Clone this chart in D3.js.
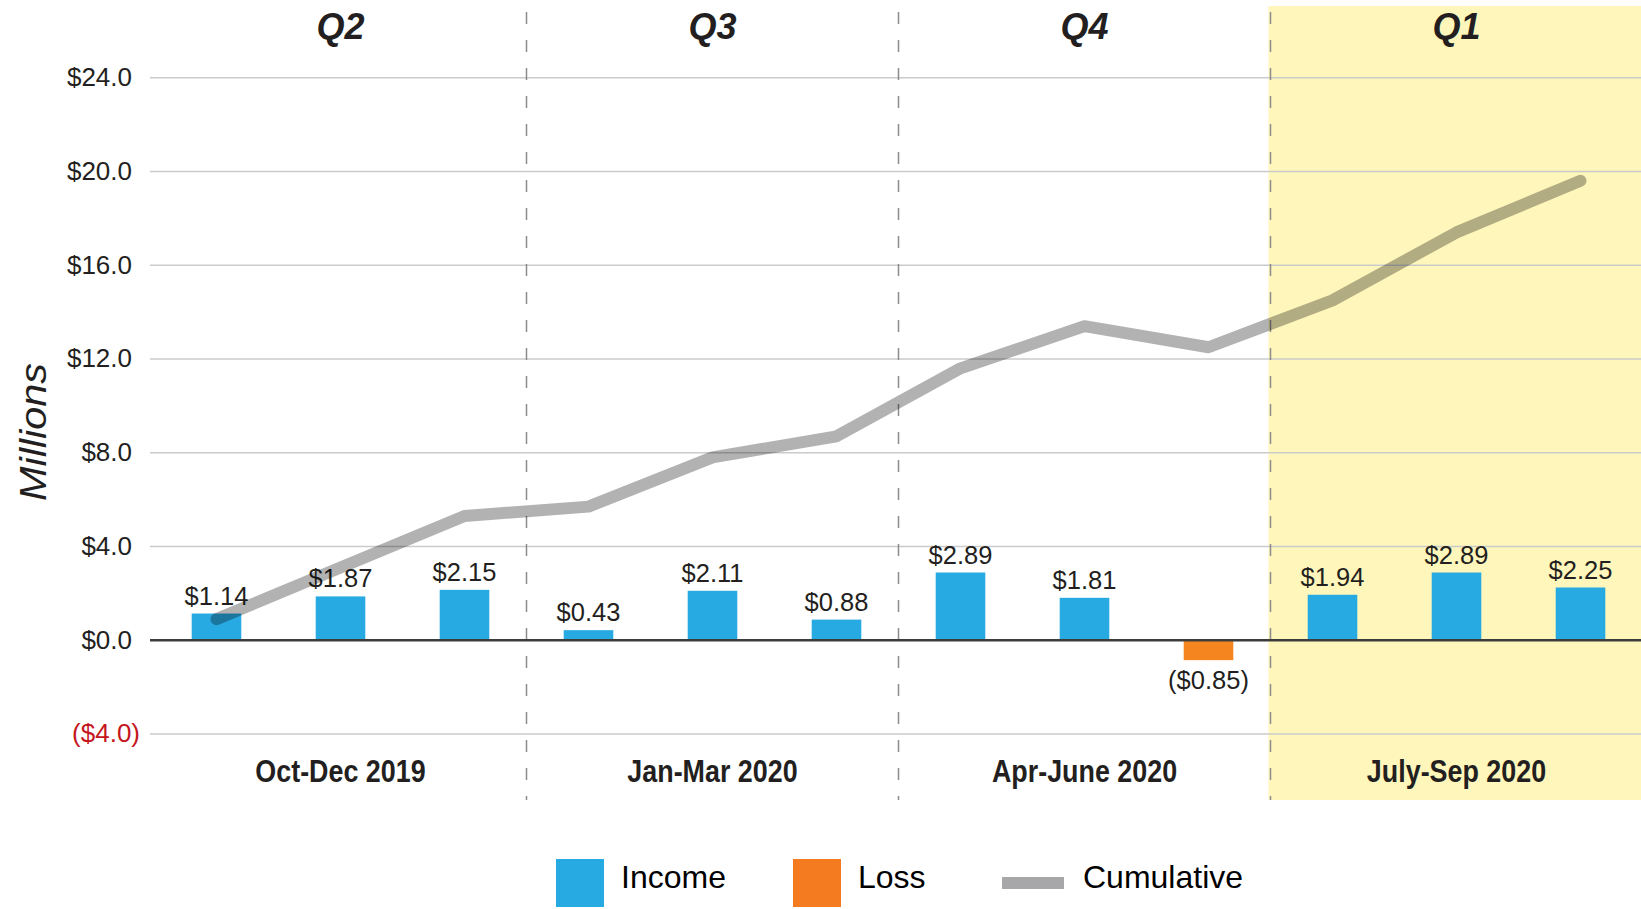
<!DOCTYPE html>
<html>
<head>
<meta charset="utf-8">
<script src="https://cdn.jsdelivr.net/npm/d3@7"></script>
<style>
  body { margin: 0; background: #fff; }
  svg { display: block; font-family: "Liberation Sans", Arial, sans-serif; }
</style>
</head>
<body>
<div id="chart"></div>
<script>
// data (millions of dollars)
var months = ["Oct 2019", "Nov 2019", "Dec 2019", "Jan 2020", "Feb 2020", "Mar 2020",
              "Apr 2020", "May 2020", "Jun 2020", "Jul 2020", "Aug 2020", "Sep 2020"];
var income = [1.14, 1.87, 2.15, 0.43, 2.11, 0.88, 2.89, 1.81, -0.85, 1.94, 2.89, 2.25];
var cumulative = [0.9, 3.1, 5.3, 5.7, 7.8, 8.7, 11.6, 13.4, 12.5, 14.5, 17.4, 19.6];
var quarters = ["Q2", "Q3", "Q4", "Q1"];
var quarterNames = ["Oct-Dec 2019", "Jan-Mar 2020", "Apr-June 2020", "July-Sep 2020"];
var yTicks = [-4, 0, 4, 8, 12, 16, 20, 24];
var legendItems = ["Income", "Loss", "Cumulative"];

var W = 1641, H = 909;
var plotLeft = 150, plotRight = 1641;

var svg = d3.select("#chart").append("svg")
    .attr("width", W)
    .attr("height", H);

var x = d3.scaleBand()
    .domain(months)
    .range([154.5, 1642.5])
    .paddingInner(0.6)
    .paddingOuter(0.3);

var xq = d3.scaleBand()
    .domain(quarters)
    .range([154.5, 1642.5]);

var y = d3.scaleLinear()
    .domain([-4, 24])
    .range([734, 77.7]);

// highlighted last quarter
svg.append("rect")
    .attr("x", xq("Q1") - 2)
    .attr("y", 6)
    .attr("width", W - xq("Q1") + 2)
    .attr("height", 794)
    .attr("fill", "#fff6bb");

// grid
svg.append("g").selectAll("line")
    .data(yTicks.filter(function(d){ return d !== 0; }))
    .enter().append("line")
    .attr("x1", plotLeft).attr("x2", plotRight)
    .attr("y1", function(d){ return y(d); })
    .attr("y2", function(d){ return y(d); })
    .attr("stroke", "#cbcbcb")
    .attr("stroke-width", 1.5);

// quarter separators
svg.append("g").selectAll("line")
    .data(quarters.slice(1))
    .enter().append("line")
    .attr("x1", function(d){ return xq(d); })
    .attr("x2", function(d){ return xq(d); })
    .attr("y1", 12).attr("y2", 800)
    .attr("stroke", "#8c8c8c")
    .attr("stroke-width", 1.5)
    .attr("stroke-dasharray", "12,16");

// y axis labels
var yAxis = svg.append("g")
    .attr("transform", "translate(" + plotLeft + ",0)")
    .call(d3.axisLeft(y).tickValues(yTicks).tickSize(0).tickPadding(18)
        .tickFormat(function(d){
            return d < 0 ? "($" + Math.abs(d).toFixed(1) + ")" : "$" + d.toFixed(1);
        }));
yAxis.select(".domain").remove();
yAxis.selectAll("text")
    .attr("font-size", 26)
    .attr("font-family", "Liberation Sans, Arial, sans-serif")
    .attr("dy", "0.3em")
    .attr("fill", function(d){ return d < 0 ? "#c4161c" : "#231f20"; })
    .attr("x", function(d){ return d < 0 ? -10 : -18; });

svg.append("text")
    .attr("transform", "translate(46,432) rotate(-90) scale(1.12,1)")
    .attr("text-anchor", "middle")
    .attr("font-size", 37)
    .attr("font-style", "italic")
    .attr("fill", "#231f20")
    .text("Millions");

// bars
svg.selectAll(".bar")
    .data(income)
    .enter().append("rect")
    .attr("class", "bar")
    .attr("x", function(d, i){ return x(months[i]); })
    .attr("y", function(d){ return y(Math.max(0, d)); })
    .attr("width", x.bandwidth())
    .attr("height", function(d){ return Math.abs(y(d) - y(0)); })
    .attr("fill", function(d){ return d < 0 ? "#f5861f" : "#27a9e1"; });

// zero line
svg.append("line")
    .attr("x1", plotLeft).attr("x2", plotRight)
    .attr("y1", y(0)).attr("y2", y(0))
    .attr("stroke", "#3c3c3c")
    .attr("stroke-width", 2.5);

// bar labels
svg.selectAll(".lbl")
    .data(income)
    .enter().append("text")
    .attr("class", "lbl")
    .attr("x", function(d, i){ return x(months[i]) + x.bandwidth() / 2; })
    .attr("y", function(d){ return d < 0 ? y(d) + 29 : y(d) - 9; })
    .attr("text-anchor", "middle")
    .attr("font-size", 25.5)
    .attr("fill", "#231f20")
    .text(function(d){
        return d < 0 ? "($" + Math.abs(d).toFixed(2) + ")" : "$" + d.toFixed(2);
    });

// cumulative line
var line = d3.line()
    .x(function(d, i){ return x(months[i]) + x.bandwidth() / 2; })
    .y(function(d){ return y(d); });

svg.append("path")
    .datum(cumulative)
    .attr("d", line)
    .attr("fill", "none")
    .attr("stroke", "rgba(0,0,0,0.3)")
    .attr("stroke-width", 12)
    .attr("stroke-linecap", "round")
    .attr("stroke-linejoin", "round");

// quarter titles
svg.selectAll(".qt")
    .data(quarters)
    .enter().append("text")
    .attr("class", "qt")
    .attr("x", function(d){ return xq(d) + xq.bandwidth() / 2; })
    .attr("y", 39)
    .attr("text-anchor", "middle")
    .attr("font-size", 36)
    .attr("font-weight", "bold")
    .attr("font-style", "italic")
    .attr("fill", "#231f20")
    .text(function(d){ return d; });

// quarter names, squeezed like a narrow bold face
svg.selectAll(".qn")
    .data(quarterNames)
    .enter().append("text")
    .attr("class", "qn")
    .attr("transform", function(d, i){
        return "translate(" + (xq(quarters[i]) + xq.bandwidth() / 2) + ",782) scale(0.84,1)";
    })
    .attr("text-anchor", "middle")
    .attr("font-size", 32)
    .attr("font-weight", "bold")
    .attr("fill", "#231f20")
    .text(function(d){ return d; });

// legend
var legendX = [556, 793, 1002];
var lg = svg.append("g");
lg.append("rect").attr("x", legendX[0]).attr("y", 859).attr("width", 48).attr("height", 48).attr("fill", "#27a9e1");
lg.append("rect").attr("x", legendX[1]).attr("y", 859).attr("width", 48).attr("height", 48).attr("fill", "#f47b20");
lg.append("line").attr("x1", legendX[2]).attr("x2", legendX[2] + 62)
    .attr("y1", 883).attr("y2", 883)
    .attr("stroke", "#a7a7aa").attr("stroke-width", 12);
lg.selectAll("text")
    .data(legendItems)
    .enter().append("text")
    .attr("x", function(d, i){ return legendX[i] + (i < 2 ? 65 : 81); })
    .attr("y", 888)
    .attr("font-size", 32)
    .attr("fill", "#000")
    .text(function(d){ return d; });
</script>
</body>
</html>
